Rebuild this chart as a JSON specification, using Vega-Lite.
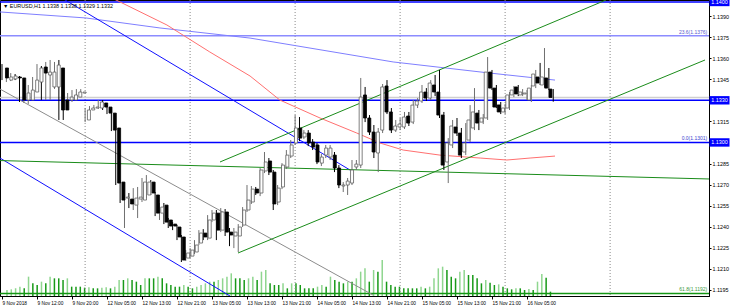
{
"$schema": "https://vega.github.io/schema/vega-lite/v6.json",
"width": 709, "height": 296,
"autosize": {"type": "none"},
"padding": {"left": 0, "top": 0, "right": 21, "bottom": 12},
"background": "white",
"config": {"view": {"stroke": "#000", "strokeWidth": 1}, "axis": {"labelFont": "Liberation Sans", "labelColor": "#000", "domainColor": "#000", "tickColor": "#000", "grid": false}},
"datasets": {
"candles": [
{"i":0,"o":1.13530,"h":1.13558,"l":1.13444,"c":1.13459,"v":1800},
{"i":1,"o":1.13444,"h":1.13501,"l":1.13430,"c":1.13466,"v":2000},
{"i":2,"o":1.13452,"h":1.13494,"l":1.13437,"c":1.13473,"v":2300},
{"i":3,"o":1.13466,"h":1.13487,"l":1.13444,"c":1.13459,"v":2800},
{"i":4,"o":1.13459,"h":1.13473,"l":1.13288,"c":1.13302,"v":2300},
{"i":5,"o":1.13302,"h":1.13387,"l":1.13281,"c":1.13352,"v":5800},
{"i":6,"o":1.13302,"h":1.13409,"l":1.13274,"c":1.13373,"v":3800},
{"i":7,"o":1.13359,"h":1.13466,"l":1.13345,"c":1.13444,"v":3300},
{"i":8,"o":1.13430,"h":1.13558,"l":1.13409,"c":1.13530,"v":4300},
{"i":9,"o":1.13537,"h":1.13544,"l":1.13302,"c":1.13494,"v":3800},
{"i":10,"o":1.13480,"h":1.13573,"l":1.13302,"c":1.13501,"v":5800},
{"i":11,"o":1.13395,"h":1.13587,"l":1.13302,"c":1.13501,"v":5300},
{"i":12,"o":1.13395,"h":1.13573,"l":1.13381,"c":1.13551,"v":5300},
{"i":13,"o":1.13530,"h":1.13587,"l":1.13160,"c":1.13231,"v":4800},
{"i":14,"o":1.13302,"h":1.13373,"l":1.13160,"c":1.13231,"v":5300},
{"i":15,"o":1.13302,"h":1.13352,"l":1.13281,"c":1.13323,"v":2800},
{"i":16,"o":1.13302,"h":1.13373,"l":1.13288,"c":1.13338,"v":2800},
{"i":17,"o":1.13323,"h":1.13380,"l":1.13309,"c":1.13359,"v":2800},
{"i":18,"o":1.13352,"h":1.13380,"l":1.13338,"c":1.13359,"v":2500},
{"i":19,"o":1.13160,"h":1.13245,"l":1.13145,"c":1.13231,"v":2600},
{"i":20,"o":1.13231,"h":1.13259,"l":1.13217,"c":1.13245,"v":2300},
{"i":21,"o":1.13245,"h":1.13267,"l":1.13238,"c":1.13252,"v":2300},
{"i":22,"o":1.13245,"h":1.13302,"l":1.13238,"c":1.13288,"v":2500},
{"i":23,"o":1.13281,"h":1.13302,"l":1.13231,"c":1.13252,"v":2600},
{"i":24,"o":1.13252,"h":1.13267,"l":1.13202,"c":1.13209,"v":2300},
{"i":25,"o":1.13209,"h":1.13217,"l":1.13081,"c":1.13088,"v":2800},
{"i":26,"o":1.13103,"h":1.13117,"l":1.12697,"c":1.12711,"v":4800},
{"i":27,"o":1.12718,"h":1.12732,"l":1.12569,"c":1.12590,"v":4800},
{"i":28,"o":1.12604,"h":1.12626,"l":1.12391,"c":1.12611,"v":5300},
{"i":29,"o":1.12597,"h":1.12640,"l":1.12533,"c":1.12562,"v":4800},
{"i":30,"o":1.12554,"h":1.12675,"l":1.12519,"c":1.12604,"v":4300},
{"i":31,"o":1.12597,"h":1.12683,"l":1.12462,"c":1.12611,"v":3300},
{"i":32,"o":1.12590,"h":1.12747,"l":1.12576,"c":1.12718,"v":5300},
{"i":33,"o":1.12626,"h":1.12768,"l":1.12604,"c":1.12718,"v":5300},
{"i":34,"o":1.12718,"h":1.12732,"l":1.12626,"c":1.12640,"v":5300},
{"i":35,"o":1.12626,"h":1.12647,"l":1.12476,"c":1.12497,"v":5800},
{"i":36,"o":1.12497,"h":1.12569,"l":1.12448,"c":1.12540,"v":5300},
{"i":37,"o":1.12554,"h":1.12569,"l":1.12419,"c":1.12433,"v":3800},
{"i":38,"o":1.12448,"h":1.12462,"l":1.12391,"c":1.12405,"v":3300},
{"i":39,"o":1.12419,"h":1.12433,"l":1.12376,"c":1.12405,"v":2800},
{"i":40,"o":1.12398,"h":1.12412,"l":1.12305,"c":1.12327,"v":2800},
{"i":41,"o":1.12327,"h":1.12341,"l":1.12149,"c":1.12163,"v":3300},
{"i":42,"o":1.12177,"h":1.12234,"l":1.12156,"c":1.12213,"v":2800},
{"i":43,"o":1.12191,"h":1.12248,"l":1.12177,"c":1.12234,"v":2300},
{"i":44,"o":1.12220,"h":1.12305,"l":1.12206,"c":1.12270,"v":2800},
{"i":45,"o":1.12284,"h":1.12376,"l":1.12270,"c":1.12355,"v":3300},
{"i":46,"o":1.12355,"h":1.12383,"l":1.12305,"c":1.12327,"v":3800},
{"i":47,"o":1.12319,"h":1.12483,"l":1.12305,"c":1.12448,"v":4300},
{"i":48,"o":1.12448,"h":1.12519,"l":1.12433,"c":1.12497,"v":4300},
{"i":49,"o":1.12497,"h":1.12519,"l":1.12305,"c":1.12376,"v":4800},
{"i":50,"o":1.12376,"h":1.12533,"l":1.12362,"c":1.12505,"v":5300},
{"i":51,"o":1.12505,"h":1.12526,"l":1.12334,"c":1.12362,"v":5800},
{"i":52,"o":1.12362,"h":1.12391,"l":1.12262,"c":1.12341,"v":6800},
{"i":53,"o":1.12334,"h":1.12391,"l":1.12248,"c":1.12362,"v":5300},
{"i":54,"o":1.12334,"h":1.12419,"l":1.12220,"c":1.12398,"v":5300},
{"i":55,"o":1.12412,"h":1.12540,"l":1.12398,"c":1.12519,"v":4800},
{"i":56,"o":1.12519,"h":1.12697,"l":1.12505,"c":1.12590,"v":5300},
{"i":57,"o":1.12576,"h":1.12690,"l":1.12562,"c":1.12668,"v":5800},
{"i":58,"o":1.12668,"h":1.12683,"l":1.12626,"c":1.12640,"v":4800},
{"i":59,"o":1.12640,"h":1.12818,"l":1.12618,"c":1.12804,"v":7300},
{"i":60,"o":1.12797,"h":1.12932,"l":1.12782,"c":1.12861,"v":7800},
{"i":61,"o":1.12868,"h":1.12889,"l":1.12768,"c":1.12789,"v":3800},
{"i":62,"o":1.12789,"h":1.12804,"l":1.12519,"c":1.12562,"v":3300},
{"i":63,"o":1.12576,"h":1.12697,"l":1.12554,"c":1.12675,"v":3300},
{"i":64,"o":1.12683,"h":1.12853,"l":1.12668,"c":1.12839,"v":3800},
{"i":65,"o":1.12825,"h":1.12946,"l":1.12811,"c":1.12910,"v":2300},
{"i":66,"o":1.12903,"h":1.13017,"l":1.12889,"c":1.12982,"v":3800},
{"i":67,"o":1.12996,"h":1.13195,"l":1.12982,"c":1.13103,"v":3800},
{"i":68,"o":1.13103,"h":1.13181,"l":1.13010,"c":1.13031,"v":3300},
{"i":69,"o":1.13039,"h":1.13088,"l":1.13024,"c":1.13067,"v":2300},
{"i":70,"o":1.13067,"h":1.13088,"l":1.12974,"c":1.12996,"v":2300},
{"i":71,"o":1.13003,"h":1.13024,"l":1.12946,"c":1.12967,"v":2300},
{"i":72,"o":1.12982,"h":1.12996,"l":1.12846,"c":1.12861,"v":2800},
{"i":73,"o":1.12853,"h":1.12918,"l":1.12832,"c":1.12896,"v":3300},
{"i":74,"o":1.12910,"h":1.12982,"l":1.12889,"c":1.12960,"v":2800},
{"i":75,"o":1.12896,"h":1.12982,"l":1.12875,"c":1.12960,"v":5800},
{"i":76,"o":1.12910,"h":1.12932,"l":1.12789,"c":1.12818,"v":4800},
{"i":77,"o":1.12818,"h":1.12839,"l":1.12675,"c":1.12697,"v":4300},
{"i":78,"o":1.12690,"h":1.12718,"l":1.12647,"c":1.12697,"v":3800},
{"i":79,"o":1.12697,"h":1.12747,"l":1.12626,"c":1.12725,"v":4300},
{"i":80,"o":1.12711,"h":1.12875,"l":1.12697,"c":1.12804,"v":4300},
{"i":81,"o":1.12825,"h":1.12875,"l":1.12804,"c":1.12846,"v":5300},
{"i":82,"o":1.12839,"h":1.13459,"l":1.12818,"c":1.13323,"v":7300},
{"i":83,"o":1.13338,"h":1.13395,"l":1.13145,"c":1.13174,"v":8300},
{"i":84,"o":1.13174,"h":1.13195,"l":1.13053,"c":1.13074,"v":4300},
{"i":85,"o":1.13074,"h":1.13124,"l":1.12889,"c":1.12932,"v":7800},
{"i":86,"o":1.12925,"h":1.13103,"l":1.12789,"c":1.13074,"v":7300},
{"i":87,"o":1.13088,"h":1.13416,"l":1.13067,"c":1.13395,"v":10800},
{"i":88,"o":1.13402,"h":1.13444,"l":1.13202,"c":1.13217,"v":4300},
{"i":89,"o":1.13217,"h":1.13245,"l":1.13067,"c":1.13088,"v":3300},
{"i":90,"o":1.13088,"h":1.13160,"l":1.13074,"c":1.13117,"v":2800},
{"i":91,"o":1.13110,"h":1.13174,"l":1.13088,"c":1.13131,"v":2800},
{"i":92,"o":1.13110,"h":1.13217,"l":1.13096,"c":1.13181,"v":2300},
{"i":93,"o":1.13188,"h":1.13217,"l":1.13117,"c":1.13138,"v":2300},
{"i":94,"o":1.13145,"h":1.13302,"l":1.13131,"c":1.13266,"v":2300},
{"i":95,"o":1.13266,"h":1.13316,"l":1.13245,"c":1.13295,"v":2300},
{"i":96,"o":1.13295,"h":1.13409,"l":1.13281,"c":1.13359,"v":2800},
{"i":97,"o":1.13359,"h":1.13387,"l":1.13295,"c":1.13316,"v":2300},
{"i":98,"o":1.13316,"h":1.13444,"l":1.13302,"c":1.13423,"v":2800},
{"i":99,"o":1.13409,"h":1.13480,"l":1.13330,"c":1.13359,"v":5300},
{"i":100,"o":1.13359,"h":1.13516,"l":1.13174,"c":1.13195,"v":8300},
{"i":101,"o":1.13195,"h":1.13217,"l":1.12804,"c":1.12839,"v":8800},
{"i":102,"o":1.12861,"h":1.13031,"l":1.12711,"c":1.12996,"v":7800},
{"i":103,"o":1.12982,"h":1.13160,"l":1.12960,"c":1.13117,"v":5800},
{"i":104,"o":1.13110,"h":1.13174,"l":1.13046,"c":1.13067,"v":5300},
{"i":105,"o":1.13067,"h":1.13103,"l":1.12889,"c":1.12910,"v":7300},
{"i":106,"o":1.12932,"h":1.13138,"l":1.12910,"c":1.12996,"v":7800},
{"i":107,"o":1.13017,"h":1.13266,"l":1.13003,"c":1.13160,"v":6300},
{"i":108,"o":1.13103,"h":1.13387,"l":1.13088,"c":1.13217,"v":6300},
{"i":109,"o":1.13209,"h":1.13231,"l":1.13088,"c":1.13138,"v":5300},
{"i":110,"o":1.13145,"h":1.13202,"l":1.13131,"c":1.13174,"v":3800},
{"i":111,"o":1.13174,"h":1.13608,"l":1.13160,"c":1.13501,"v":4800},
{"i":112,"o":1.13501,"h":1.13516,"l":1.13373,"c":1.13387,"v":4000},
{"i":113,"o":1.13387,"h":1.13409,"l":1.13245,"c":1.13252,"v":3300},
{"i":114,"o":1.13267,"h":1.13288,"l":1.13202,"c":1.13217,"v":3500},
{"i":115,"o":1.13217,"h":1.13274,"l":1.13202,"c":1.13245,"v":2800},
{"i":116,"o":1.13245,"h":1.13359,"l":1.13231,"c":1.13338,"v":2300},
{"i":117,"o":1.13338,"h":1.13402,"l":1.13323,"c":1.13373,"v":2000},
{"i":118,"o":1.13395,"h":1.13409,"l":1.13330,"c":1.13345,"v":2300},
{"i":119,"o":1.13338,"h":1.13380,"l":1.13330,"c":1.13359,"v":2300},
{"i":120,"o":1.13345,"h":1.13373,"l":1.13302,"c":1.13352,"v":1800},
{"i":121,"o":1.13302,"h":1.13409,"l":1.13288,"c":1.13387,"v":2100},
{"i":122,"o":1.13402,"h":1.13516,"l":1.13387,"c":1.13487,"v":1800},
{"i":123,"o":1.13466,"h":1.13566,"l":1.13409,"c":1.13423,"v":4300},
{"i":124,"o":1.13409,"h":1.13672,"l":1.13395,"c":1.13466,"v":6600},
{"i":125,"o":1.13459,"h":1.13530,"l":1.13373,"c":1.13387,"v":5500},
{"i":126,"o":1.13380,"h":1.13380,"l":1.13290,"c":1.13320,"v":1300}
],
"lines": [
{"id":"maBlue","i":-0.46,"p":1.13929},{"id":"maBlue","i":19.2,"p":1.13886},{"id":"maBlue","i":36.1,"p":1.13815},{"id":"maBlue","i":56.7,"p":1.13743},{"id":"maBlue","i":89.4,"p":1.13573},{"id":"maBlue","i":111.5,"p":1.13494},{"id":"maBlue","i":126.4,"p":1.13444},
{"id":"maRed","i":24.7,"p":1.14035},{"id":"maRed","i":37.7,"p":1.13836},{"id":"maRed","i":47.5,"p":1.13644},{"id":"maRed","i":56.7,"p":1.13473},{"id":"maRed","i":63.5,"p":1.13302},{"id":"maRed","i":72.7,"p":1.13174},{"id":"maRed","i":81.1,"p":1.13067},{"id":"maRed","i":86.4,"p":1.12996},{"id":"maRed","i":91.7,"p":1.12946},{"id":"maRed","i":100.1,"p":1.12910},{"id":"maRed","i":109.3,"p":1.12889},{"id":"maRed","i":115.4,"p":1.12875},{"id":"maRed","i":120.7,"p":1.12889},{"id":"maRed","i":126.4,"p":1.12903},
{"id":"blueA","i":13.3,"p":1.14035},{"id":"blueA","i":79.54,"p":1.12804},
{"id":"blueB","i":-0.46,"p":1.12889},{"id":"blueB","i":52.11,"p":1.11907},
{"id":"gray","i":-0.46,"p":1.13380},{"id":"gray","i":84.8,"p":1.11914},
{"id":"greenH","i":-0.46,"p":1.12871},{"id":"greenH","i":161.6,"p":1.12740},
{"id":"greenUp","i":49.83,"p":1.12861},{"id":"greenUp","i":138.06,"p":1.14014},
{"id":"greenLo","i":53.94,"p":1.12213},{"id":"greenLo","i":160.69,"p":1.13587}
],
"levels": [
{"k":"r1400","p":1.1400},{"k":"fib236","p":1.1376},{"k":"bid","p":1.1332},{"k":"r1330","p":1.1330},{"k":"r1300","p":1.1300},{"k":"fib618","p":1.11925}
],
"seps": [{"i":19},{"i":43},{"i":67},{"i":91},{"i":115},{"i":139}],
"fibtext": [
{"k":"fib236","t":"23.6(1.1376)","p":1.1376},{"k":"r1300","t":"0.0(1.1301)","p":1.1300},{"k":"fib618","t":"61.8(1.1192)","p":1.11925}
],
"boxes": [{"t":"1.1400","p":1.1400},{"t":"1.1330","p":1.1330},{"t":"1.1300","p":1.1300}]
},
"resolve": {"scale": {"x": "independent", "y": "independent", "color": "independent", "strokeWidth": "independent"}},
"layer": [
{
"data": {"name": "candles"},
"transform": [{"window": [{"op": "lag", "field": "v", "as": "pv"}]}],
"mark": {"type": "bar", "size": 1.5},
"encoding": {
"x": {"field": "i", "type": "quantitative", "scale": {"domain": [-0.457, 161.6], "nice": false, "zero": false}, "axis": null},
"y": {"field": "v", "type": "quantitative", "scale": {"domain": [0, 88800], "nice": false}, "axis": null},
"color": {"condition": {"test": "datum.v > datum.pv", "value": "#8fd68f"}, "value": "#189a18"}
}
},
{
"data": {"name": "seps"},
"mark": {"type": "rule", "color": "#8a8a8a", "strokeDash": [1, 2], "strokeWidth": 1},
"encoding": {"x": {"field": "i", "type": "quantitative", "scale": {"domain": [-0.457, 161.6], "nice": false, "zero": false}, "axis": null}}
},
{
"data": {"name": "levels"},
"mark": {"type": "rule"},
"encoding": {
"y": {"field": "p", "type": "quantitative", "scale": {"domain": [1.11907, 1.14014], "nice": false, "zero": false}, "axis": null},
"color": {"field": "k", "type": "nominal", "legend": null, "scale": {"domain": ["r1400","fib236","bid","r1330","r1300","fib618"], "range": ["#0000ff","#8c8cff","#cfcfcf","#0000ff","#0000ff","#149614"]}},
"strokeWidth": {"field": "k", "type": "nominal", "legend": null, "scale": {"domain": ["r1400","fib236","bid","r1330","r1300","fib618"], "range": [1.5,1.5,3,1.5,1.5,1.5]}}
}
},
{
"data": {"name": "lines"},
"mark": {"type": "line", "clip": true},
"encoding": {
"x": {"field": "i", "type": "quantitative", "scale": {"domain": [-0.457, 161.6], "nice": false, "zero": false}, "axis": null},
"y": {"field": "p", "type": "quantitative", "scale": {"domain": [1.11907, 1.14014], "nice": false, "zero": false}, "axis": null},
"detail": {"field": "id", "type": "nominal"},
"color": {"field": "id", "type": "nominal", "legend": null, "scale": {"domain": ["maBlue","maRed","blueA","blueB","gray","greenH","greenUp","greenLo"], "range": ["#7f7fff","#ff7070","#1010ff","#1010ff","#8c8c8c","#1a8c1a","#1a8c1a","#1a8c1a"]}},
"strokeWidth": {"field": "id", "type": "nominal", "legend": null, "scale": {"domain": ["maBlue","maRed","blueA","blueB","gray","greenH","greenUp","greenLo"], "range": [1,1,1.5,1.5,1.3,1.5,1.5,1.5]}}
}
},
{
"data": {"name": "candles"},
"mark": {"type": "rule", "strokeWidth": 1},
"encoding": {
"x": {"field": "i", "type": "quantitative", "scale": {"domain": [-0.457, 161.6], "nice": false, "zero": false}, "title": null,
 "axis": {"orient": "bottom", "values": [0,8,16,24,32,40,48,56,64,72,80,88,96,104,112,120], "labelExpr": "datum.value < 4 ? '9 Nov 2018' : datum.value < 12 ? '9 Nov 12:00' : datum.value < 20 ? '9 Nov 20:00' : datum.value < 28 ? '12 Nov 05:00' : datum.value < 36 ? '12 Nov 13:00' : datum.value < 44 ? '12 Nov 21:00' : datum.value < 52 ? '13 Nov 05:00' : datum.value < 60 ? '13 Nov 13:00' : datum.value < 68 ? '13 Nov 21:00' : datum.value < 76 ? '14 Nov 05:00' : datum.value < 84 ? '14 Nov 13:00' : datum.value < 92 ? '14 Nov 21:00' : datum.value < 100 ? '15 Nov 05:00' : datum.value < 108 ? '15 Nov 13:00' : datum.value < 116 ? '15 Nov 21:00' : '16 Nov 05:00'", "labelAlign": "left", "labelBaseline": "top", "labelPadding": 1, "tickSize": 3, "labelOverlap": false, "labelFlush": false, "labelFontSize": 4.8, "title": null}},
"y": {"field": "l", "type": "quantitative", "scale": {"domain": [1.11907, 1.14014], "nice": false, "zero": false}, "title": null,
 "axis": {"orient": "right", "values": [1.1195,1.121,1.1225,1.124,1.1255,1.127,1.1285,1.1315,1.1345,1.136,1.1375,1.139], "format": ".4f", "tickSize": 2, "labelPadding": 1, "labelOverlap": false, "labelFontSize": 5.4, "title": null}},
"y2": {"field": "h"},
"color": {"condition": {"test": "datum.c >= datum.o", "value": "#707070"}, "value": "#000000"}
}
},
{
"data": {"name": "candles"},
"mark": {"type": "bar", "size": 3, "strokeWidth": 0.8},
"encoding": {
"x": {"field": "i", "type": "quantitative", "scale": {"domain": [-0.457, 161.6], "nice": false, "zero": false}, "axis": null},
"y": {"field": "o", "type": "quantitative", "scale": {"domain": [1.11907, 1.14014], "nice": false, "zero": false}, "axis": null},
"y2": {"field": "c"},
"fill": {"condition": {"test": "datum.c >= datum.o", "value": "#ffffff"}, "value": "#000000"},
"stroke": {"condition": {"test": "datum.c >= datum.o", "value": "#606060"}, "value": "#000000"}
}
},
{
"data": {"name": "fibtext"},
"mark": {"type": "text", "align": "right", "baseline": "bottom", "dy": -1, "fontSize": 5, "font": "Liberation Sans"},
"encoding": {
"x": {"datum": 161.2, "type": "quantitative", "scale": {"domain": [-0.457, 161.6], "nice": false, "zero": false}, "axis": null},
"y": {"field": "p", "type": "quantitative", "scale": {"domain": [1.11907, 1.14014], "nice": false, "zero": false}, "axis": null},
"text": {"field": "t"},
"color": {"field": "k", "type": "nominal", "legend": null, "scale": {"domain": ["fib236","r1300","fib618"], "range": ["#5a5ad0","#4040d0","#3a9a3a"]}}
}
},
{
"data": {"name": "boxes"},
"mark": {"type": "point", "shape": "M-1,-0.42H1V0.42H-1Z", "size": 400, "filled": true, "opacity": 1, "color": "#0000ff", "xOffset": 10.5},
"encoding": {
"x": {"datum": 161.6, "type": "quantitative", "scale": {"domain": [-0.457, 161.6], "nice": false, "zero": false}, "axis": null},
"y": {"field": "p", "type": "quantitative", "scale": {"domain": [1.11907, 1.14014], "nice": false, "zero": false}, "axis": null}
}
},
{
"data": {"name": "boxes"},
"mark": {"type": "text", "align": "center", "baseline": "middle", "fontSize": 5.4, "font": "Liberation Sans", "color": "#ffffff", "xOffset": 10.5},
"encoding": {
"x": {"datum": 161.6, "type": "quantitative", "scale": {"domain": [-0.457, 161.6], "nice": false, "zero": false}, "axis": null},
"y": {"field": "p", "type": "quantitative", "scale": {"domain": [1.11907, 1.14014], "nice": false, "zero": false}, "axis": null},
"text": {"field": "t"}
}
},
{
"data": {"values": [{"t": "▼ EURUSD,H1  1.1338 1.1338 1.1329 1.1332"}]},
"mark": {"type": "text", "align": "left", "baseline": "middle", "fontSize": 5.4, "font": "Liberation Sans", "color": "#000000", "xOffset": 1},
"encoding": {
"x": {"datum": 0, "type": "quantitative", "scale": {"domain": [-0.457, 161.6], "nice": false, "zero": false}, "axis": null},
"y": {"datum": 1.13971, "type": "quantitative", "scale": {"domain": [1.11907, 1.14014], "nice": false, "zero": false}, "axis": null},
"text": {"field": "t"}
}
}
]
}
